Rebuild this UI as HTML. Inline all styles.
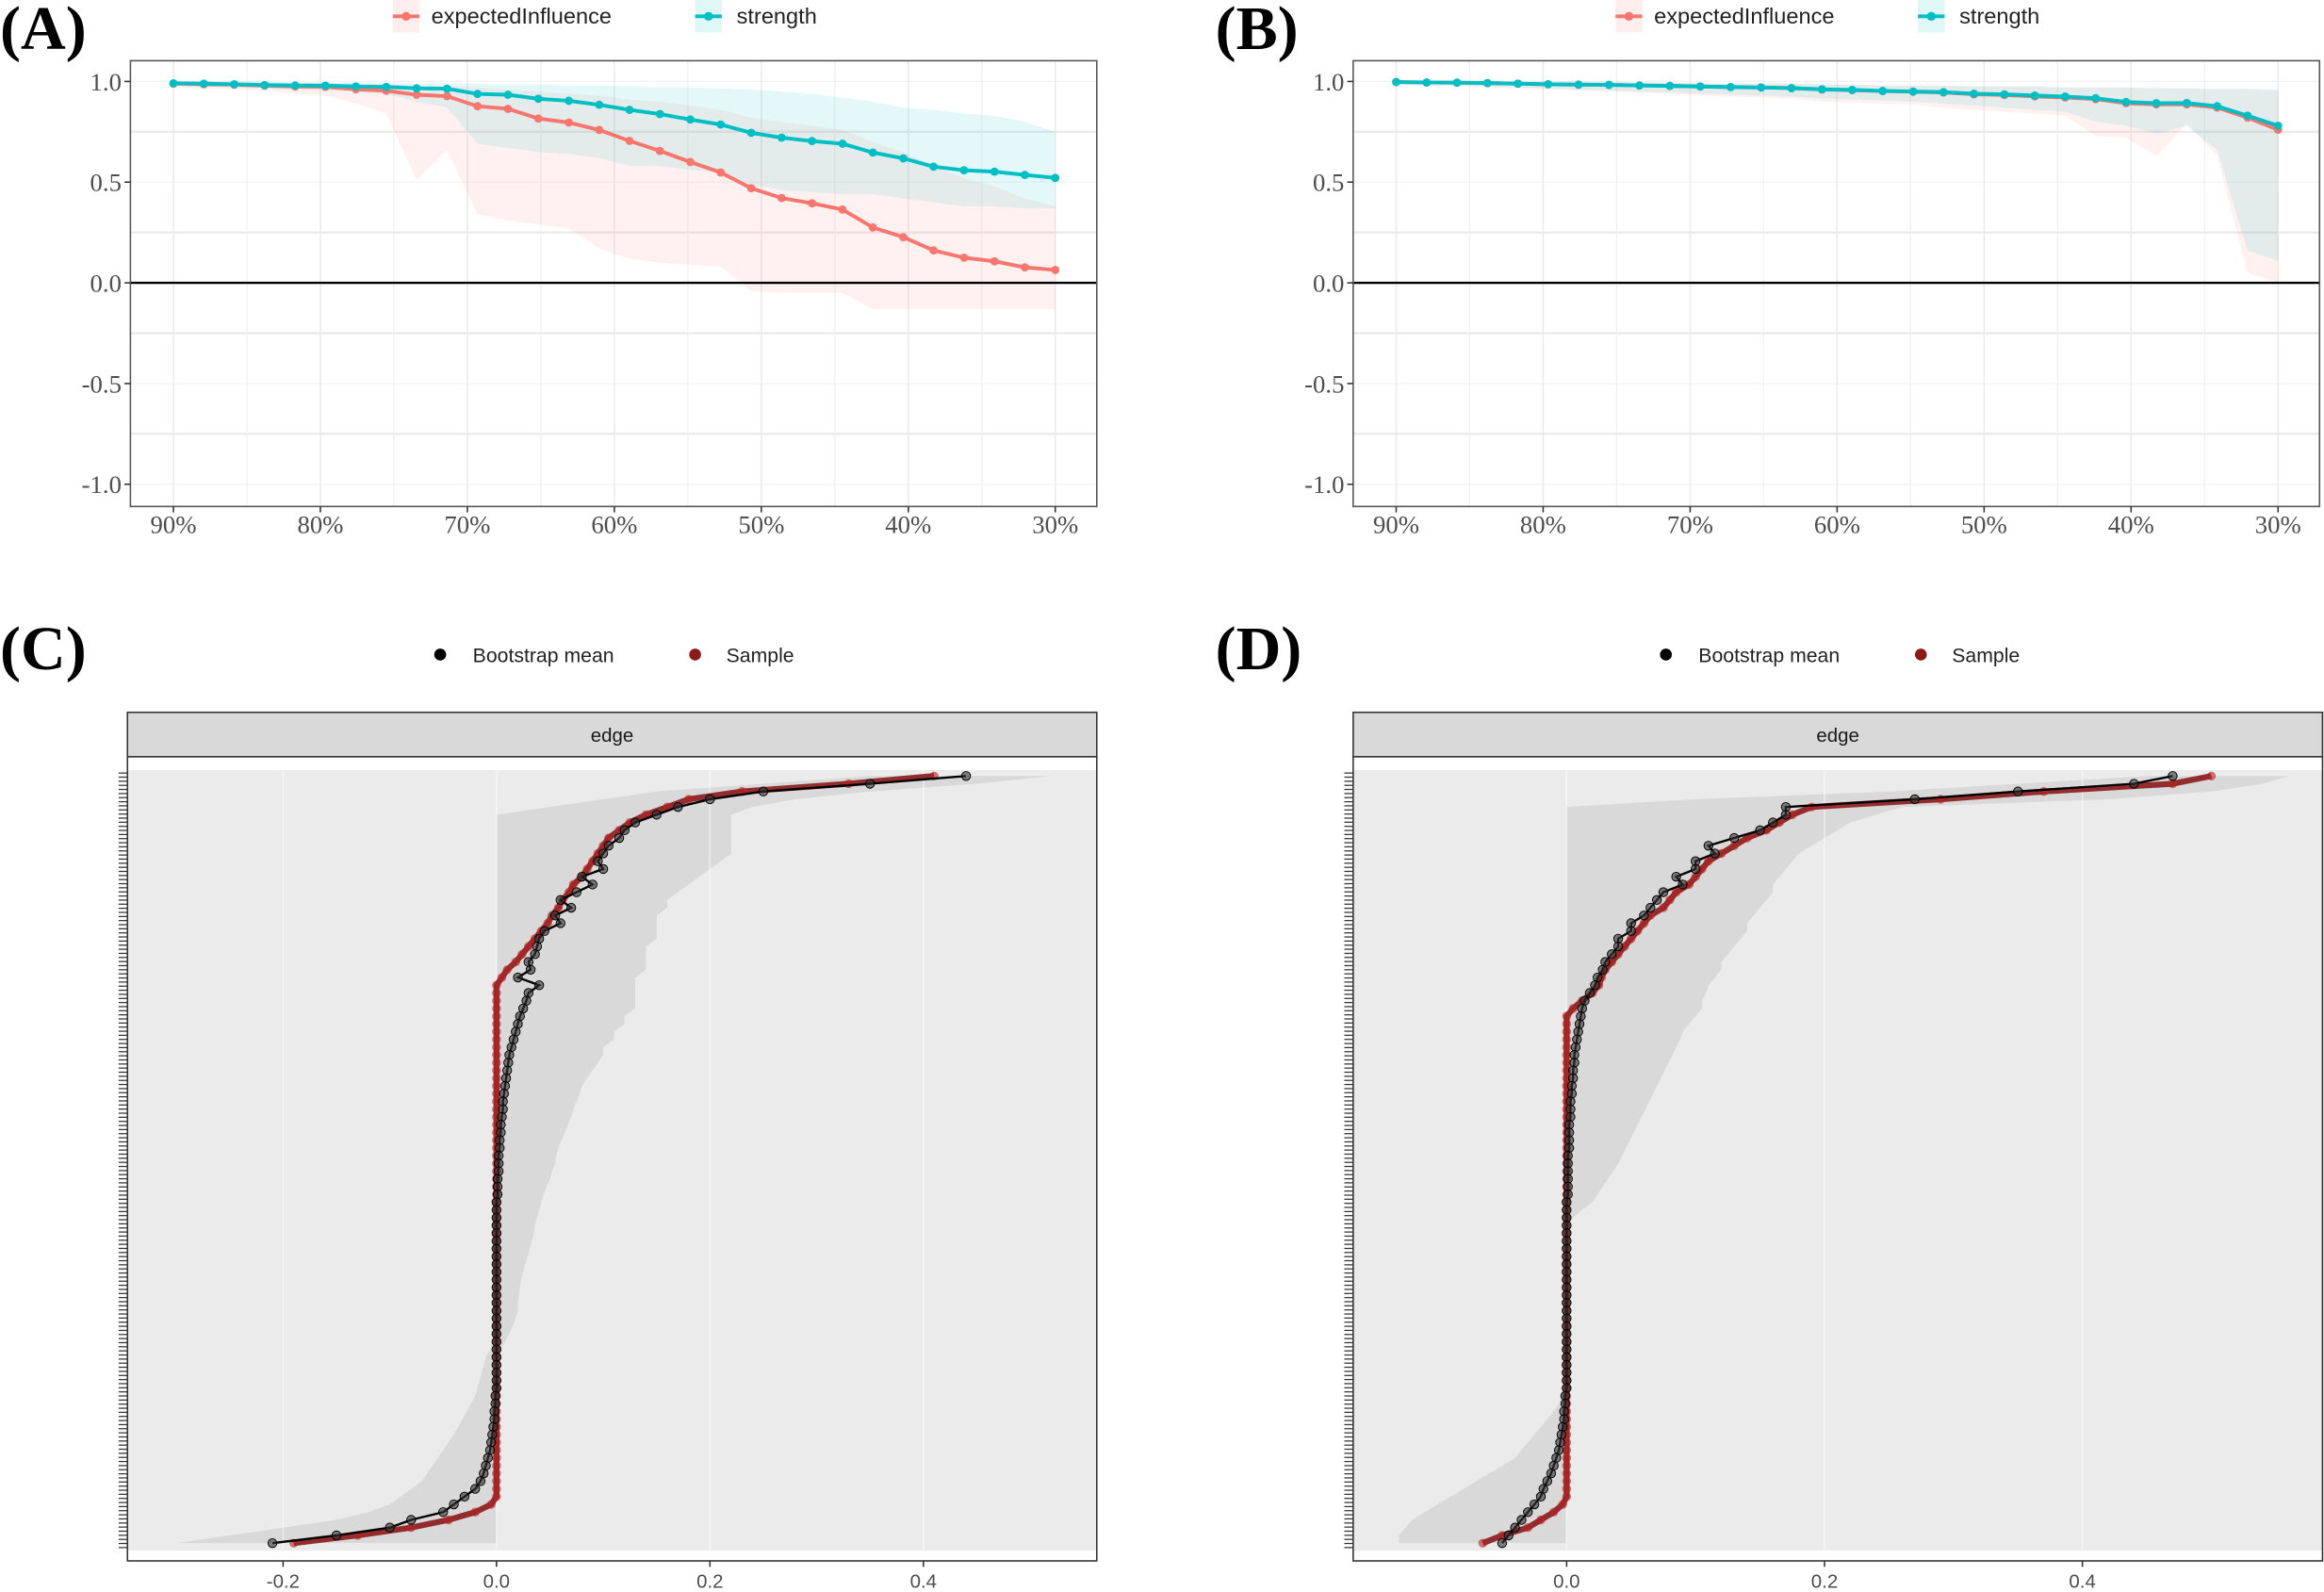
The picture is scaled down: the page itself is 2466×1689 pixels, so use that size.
<!DOCTYPE html>
<html><head><meta charset="utf-8">
<style>
html,body{margin:0;padding:0;background:#fff;}
svg{display:block;}
text{font-family:"Liberation Sans",sans-serif;}
.serif{font-family:"Liberation Serif",serif;}
</style></head>
<body>
<svg id="fig" width="2466" height="1689" viewBox="0 0 1568 1075" preserveAspectRatio="none" xmlns="http://www.w3.org/2000/svg">
<text class="serif" x="0" y="33" font-size="42" font-weight="bold">(A)</text>
<text class="serif" x="820" y="33" font-size="42" font-weight="bold">(B)</text>
<text class="serif" x="0" y="452" font-size="42" font-weight="bold">(C)</text>
<text class="serif" x="820" y="452" font-size="42" font-weight="bold">(D)</text>
<g id="gA"></g>
<g id="gB"></g>
<g id="gC"></g>
<g id="gD"></g>
</svg>
<script>
const dropPct=[90,87.93,85.86,83.79,81.72,79.66,77.59,75.52,73.45,71.38,69.31,67.24,65.17,63.1,61.03,58.97,56.9,54.83,52.76,50.69,48.62,46.55,44.48,42.41,40.34,38.28,36.21,34.14,32.07,30];
const xTickLabels=["90%","80%","70%","60%","50%","40%","30%"];
const xTickVals=[90,80,70,60,50,40,30];
const yTickVals=[1,0.5,0,-0.5,-1];
const yTickLabels=["1.0","0.5","0.0","-0.5","-1.0"];

const aStrength=[0.991,0.989,0.986,0.982,0.980,0.979,0.975,0.973,0.966,0.964,0.938,0.934,0.914,0.904,0.884,0.859,0.838,0.811,0.786,0.745,0.721,0.704,0.691,0.647,0.618,0.577,0.559,0.552,0.536,0.521];
const aStrengthLo=[0.98,0.975,0.97,0.965,0.96,0.955,0.95,0.94,0.9,0.87,0.69,0.67,0.65,0.64,0.62,0.58,0.58,0.56,0.55,0.49,0.46,0.45,0.44,0.44,0.42,0.4,0.38,0.38,0.37,0.37];
const aStrengthHi=[1,1,1,1,0.995,0.995,0.995,0.99,0.99,0.99,0.99,0.985,0.985,0.98,0.98,0.975,0.97,0.97,0.965,0.96,0.95,0.94,0.92,0.9,0.87,0.86,0.84,0.83,0.8,0.75];
const aEI=[0.989,0.986,0.984,0.979,0.975,0.973,0.961,0.954,0.934,0.927,0.877,0.864,0.816,0.796,0.759,0.705,0.655,0.600,0.548,0.470,0.421,0.395,0.364,0.275,0.227,0.161,0.125,0.107,0.077,0.064];
const aEILo=[0.97,0.965,0.96,0.955,0.94,0.93,0.89,0.84,0.51,0.66,0.34,0.31,0.29,0.27,0.17,0.12,0.1,0.09,0.08,-0.04,-0.05,-0.05,-0.05,-0.13,-0.13,-0.13,-0.13,-0.13,-0.13,-0.13];
const aEIHi=[1,1,1,0.995,0.995,0.99,0.99,0.985,0.98,0.975,0.97,0.96,0.95,0.94,0.93,0.91,0.9,0.88,0.86,0.82,0.8,0.78,0.76,0.7,0.65,0.58,0.52,0.48,0.42,0.38];

const bStrength=[0.997,0.995,0.994,0.992,0.989,0.986,0.984,0.983,0.980,0.978,0.975,0.972,0.970,0.967,0.961,0.958,0.953,0.950,0.947,0.939,0.936,0.930,0.925,0.917,0.898,0.892,0.893,0.877,0.830,0.780];
const bStrengthLo=[0.99,0.985,0.98,0.975,0.97,0.965,0.96,0.955,0.95,0.945,0.94,0.935,0.93,0.925,0.915,0.91,0.905,0.9,0.89,0.88,0.87,0.86,0.85,0.8,0.78,0.74,0.78,0.66,0.16,0.11];
const bStrengthHi=[1,1,1,1,1,1,1,1,0.995,0.995,0.99,0.99,0.99,0.99,0.985,0.985,0.98,0.98,0.98,0.975,0.975,0.975,0.97,0.97,0.97,0.97,0.965,0.965,0.965,0.962];
const bEI=[0.997,0.995,0.994,0.992,0.989,0.986,0.984,0.983,0.980,0.978,0.975,0.972,0.970,0.967,0.960,0.957,0.952,0.949,0.945,0.936,0.933,0.926,0.920,0.912,0.892,0.886,0.886,0.870,0.820,0.760];
const bEILo=[0.985,0.98,0.975,0.97,0.965,0.96,0.955,0.95,0.945,0.94,0.93,0.925,0.92,0.915,0.9,0.895,0.89,0.885,0.87,0.86,0.85,0.84,0.83,0.73,0.72,0.63,0.79,0.63,0.05,0.0];
const bEIHi=[1,1,1,1,1,1,1,1,0.995,0.995,0.99,0.99,0.99,0.99,0.985,0.985,0.98,0.98,0.98,0.975,0.975,0.975,0.97,0.97,0.97,0.965,0.965,0.96,0.96,0.955];

const cSample=[0.41,0.33,0.23,0.18,0.16,0.14,0.125,0.115,0.105,0.1,0.095,0.09,0.085,0.08,0.072,0.068,0.062,0.058,0.052,0.048,0.042,0.036,0.03,0.024,0.018,0.01,0.005,0,0,0,0,0,0,0,0,0,0,0,0,0,0,0,0,0,0,0,0,0,0,0,0,0,0,0,0,0,0,0,0,0,0,0,0,0,0,0,0,0,0,0,0,0,0,0,0,0,0,0,0,0,0,0,0,0,0,0,0,0,0,0,0,0,0,0,-0.005,-0.02,-0.045,-0.08,-0.13,-0.19];
const cMean=[0.44,0.35,0.25,0.2,0.17,0.15,0.13,0.12,0.115,0.105,0.1,0.095,0.1,0.08,0.09,0.075,0.06,0.07,0.055,0.06,0.045,0.04,0.038,0.036,0.03,0.032,0.02,0.04,0.03,0.028,0.025,0.022,0.02,0.018,0.016,0.014,0.012,0.011,0.01,0.009,0.008,0.007,0.006,0.006,0.005,0.004,0.004,0.003,0.003,0.002,0.002,0.002,0.001,0.001,0.001,0,0,0,0,0,0,0,0,0,0,0,0,0,0,0,0,0,0,0,0,0,0,0,0,0,-0.001,-0.001,-0.002,-0.002,-0.003,-0.004,-0.005,-0.006,-0.008,-0.01,-0.012,-0.015,-0.02,-0.03,-0.04,-0.05,-0.08,-0.1,-0.15,-0.21];
const cUpper=[0.52,0.45,0.35,0.28,0.24,0.22,0.22,0.22,0.22,0.22,0.22,0.21,0.2,0.19,0.18,0.17,0.16,0.16,0.15,0.15,0.15,0.15,0.14,0.14,0.14,0.14,0.13,0.13,0.13,0.13,0.13,0.12,0.12,0.11,0.11,0.1,0.1,0.095,0.09,0.085,0.08,0.078,0.075,0.072,0.07,0.067,0.064,0.061,0.058,0.056,0.055,0.052,0.05,0.047,0.044,0.042,0.04,0.038,0.036,0.035,0.033,0.031,0.029,0.027,0.025,0.023,0.022,0.021,0.02,0.02,0.018,0.015,0.012,0.008,0.004,0,0,0,0,0,0,0,0,0,0,0,0,0,0,0,0,0,0,0,0,0,0,0,0,0];
const cLower=[0.35,0.25,0.15,0.1,0.05,0,0,0,0,0,0,0,0,0,0,0,0,0,0,0,0,0,0,0,0,0,0,0,0,0,0,0,0,0,0,0,0,0,0,0,0,0,0,0,0,0,0,0,0,0,0,0,0,0,0,0,0,0,0,0,0,0,0,0,0,0,0,0,0,0,0,0,-0.002,-0.004,-0.006,-0.01,-0.012,-0.014,-0.016,-0.018,-0.02,-0.024,-0.028,-0.032,-0.036,-0.04,-0.045,-0.05,-0.055,-0.06,-0.065,-0.07,-0.08,-0.09,-0.1,-0.12,-0.15,-0.2,-0.25,-0.3];

const dSample=[0.5,0.47,0.37,0.29,0.19,0.175,0.165,0.155,0.14,0.13,0.12,0.11,0.105,0.1,0.095,0.085,0.08,0.075,0.065,0.06,0.055,0.05,0.045,0.04,0.035,0.03,0.027,0.025,0.02,0.012,0.005,0,0,0,0,0,0,0,0,0,0,0,0,0,0,0,0,0,0,0,0,0,0,0,0,0,0,0,0,0,0,0,0,0,0,0,0,0,0,0,0,0,0,0,0,0,0,0,0,0,0,0,0,0,0,0,0,0,0,0,0,0,0,0,-0.003,-0.01,-0.02,-0.03,-0.05,-0.065];
const dMean=[0.47,0.44,0.35,0.27,0.17,0.17,0.16,0.15,0.13,0.11,0.115,0.1,0.1,0.085,0.09,0.075,0.07,0.065,0.06,0.05,0.05,0.04,0.04,0.035,0.03,0.028,0.024,0.022,0.018,0.014,0.012,0.011,0.01,0.009,0.008,0.007,0.006,0.006,0.005,0.005,0.004,0.004,0.003,0.003,0.003,0.002,0.002,0.002,0.002,0.001,0.001,0.001,0.001,0.001,0.001,0,0,0,0,0,0,0,0,0,0,0,0,0,0,0,0,0,0,0,0,0,0,0,0,0,-0.001,-0.001,-0.002,-0.002,-0.003,-0.004,-0.005,-0.006,-0.008,-0.01,-0.012,-0.015,-0.018,-0.02,-0.025,-0.03,-0.035,-0.04,-0.045,-0.05];
const dUpper=[0.56,0.54,0.5,0.42,0.26,0.24,0.22,0.21,0.2,0.19,0.18,0.175,0.17,0.165,0.16,0.16,0.155,0.15,0.145,0.14,0.14,0.135,0.13,0.125,0.12,0.12,0.115,0.11,0.108,0.105,0.105,0.1,0.095,0.09,0.088,0.085,0.082,0.079,0.076,0.073,0.07,0.067,0.064,0.061,0.058,0.055,0.052,0.049,0.046,0.043,0.04,0.036,0.032,0.028,0.024,0.02,0.012,0.005,0,0,0,0,0,0,0,0,0,0,0,0,0,0,0,0,0,0,0,0,0,0,0,0,0,0,0,0,0,0,0,0,0,0,0,0,0,0,0,0,0,0];
const dLower=[0.45,0.35,0.25,0.1,0,0,0,0,0,0,0,0,0,0,0,0,0,0,0,0,0,0,0,0,0,0,0,0,0,0,0,0,0,0,0,0,0,0,0,0,0,0,0,0,0,0,0,0,0,0,0,0,0,0,0,0,0,0,0,0,0,0,0,0,0,0,0,0,0,0,0,0,0,0,0,0,0,0,0,-0.002,-0.004,-0.006,-0.01,-0.015,-0.02,-0.025,-0.03,-0.035,-0.04,-0.05,-0.06,-0.07,-0.08,-0.09,-0.1,-0.11,-0.12,-0.125,-0.13,-0.13];
const cTicks=[-0.2,0,0.2,0.4];
const cTickLabels=["-0.2","0.0","0.2","0.4"];
const dTicks=[0,0.2,0.4];
const dTickLabels=["0.0","0.2","0.4"];

const NS="http://www.w3.org/2000/svg";
function mk(parent,tag,attrs,txt){const e=document.createElementNS(NS,tag);for(const k in attrs)e.setAttribute(k,attrs[k]);if(txt!==undefined)e.textContent=txt;parent.appendChild(e);return e;}

const TEAL="#00BFC4",RED="#F8766D";
function stabPanel(g,ox,s,sLo,sHi,e,eLo,eHi){
  const xS=p=>ox+117+(90-p)/60*(712-117);
  const yS=v=>191-136*v;
  const L=ox+88,R=ox+740,T=41,B=342;
  let r=mk(g,'rect',{x:L,y:T,width:R-L,height:B-T,fill:'#fff'});
  
  
  [0.75,0.25,-0.25,-0.75].forEach(v=>mk(g,'line',{x1:L,x2:R,y1:yS(v),y2:yS(v),stroke:'#ebebeb','stroke-width':1.5}));
  [1,0.5,0,-0.5,-1].forEach(v=>mk(g,'line',{x1:L,x2:R,y1:yS(v),y2:yS(v),stroke:'#f3f3f3','stroke-width':0.8}));
  [85,75,65,55,45,35].forEach(p=>mk(g,'line',{x1:xS(p),x2:xS(p),y1:T,y2:B,stroke:'#f0f0f0','stroke-width':0.8}));
  xTickVals.forEach(p=>mk(g,'line',{x1:xS(p),x2:xS(p),y1:T,y2:B,stroke:'#ebebeb','stroke-width':1}));
  function band(lo,hi,col,name){
    let d='';dropPct.forEach((p,i)=>{d+=(i?'L':'M')+xS(p)+','+yS(hi[i]);});
    for(let i=dropPct.length-1;i>=0;i--)d+='L'+xS(dropPct[i])+','+yS(lo[i]);
    const el=mk(g,'path',{d:d+'Z',fill:col,'fill-opacity':0.1});
    
    
  }
  band(eLo,eHi,RED,'ei-ci-band');
  band(sLo,sHi,TEAL,'strength-ci-band');
  mk(g,'line',{x1:L,x2:R,y1:yS(0),y2:yS(0),stroke:'#000','stroke-width':1.5});
  function line(v,col,name){
    const pts=dropPct.map((p,i)=>xS(p)+','+yS(v[i])).join(' ');
    const pl=mk(g,'polyline',{points:pts,fill:'none',stroke:col,'stroke-width':2.5});
    
    
    dropPct.forEach((p,i)=>{
      const c=mk(g,'circle',{cx:xS(p),cy:yS(v[i]),r:2.8,fill:col});
      
      
    });
  }
  line(e,RED,'expected-influence');
  line(s,TEAL,'strength');
  mk(g,'rect',{x:L,y:T,width:R-L,height:B-T,fill:'none',stroke:'#555','stroke-width':1});
  yTickVals.forEach((v,i)=>{
    mk(g,'line',{x1:L-4,x2:L,y1:yS(v),y2:yS(v),stroke:'#333'});
    const t=mk(g,'text',{x:L-6,y:yS(v)+6,'text-anchor':'end','font-size':17,fill:'#4d4d4d','class':'serif'},yTickLabels[i]);
    
    
  });
  xTickVals.forEach((p,i)=>{
    mk(g,'line',{x1:xS(p),x2:xS(p),y1:B,y2:B+4,stroke:'#333'});
    const t=mk(g,'text',{x:xS(p),y:B+18,'text-anchor':'middle','font-size':17,fill:'#4d4d4d','class':'serif'},xTickLabels[i]);
    
    
  });
  const lg=mk(g,'g',{});
  
  
  mk(lg,'rect',{x:ox+265,y:0,width:18,height:22,fill:RED,'fill-opacity':0.12});
  mk(lg,'line',{x1:ox+265,x2:ox+283,y1:11,y2:11,stroke:RED,'stroke-width':2.5});
  mk(lg,'circle',{cx:ox+274,cy:11,r:3,fill:RED});
  const t1=mk(lg,'text',{x:ox+291,y:16,'font-size':15,fill:'#222'},'expectedInfluence');
  
  
  mk(lg,'rect',{x:ox+469,y:0,width:18,height:22,fill:TEAL,'fill-opacity':0.12});
  mk(lg,'line',{x1:ox+469,x2:ox+487,y1:11,y2:11,stroke:TEAL,'stroke-width':2.5});
  mk(lg,'circle',{cx:ox+478,cy:11,r:3,fill:TEAL});
  const t2=mk(lg,'text',{x:ox+497,y:16,'font-size':15,fill:'#222'},'strength');
  
  
}
stabPanel(document.getElementById('gA'),0,aStrength,aStrengthLo,aStrengthHi,aEI,aEILo,aEIHi);
stabPanel(document.getElementById('gB'),825,bStrength,bStrengthLo,bStrengthHi,bEI,bEILo,bEIHi);

function edgePanel(g,ox,x0,pxPerUnit,sample,mean,up,lo,ticks,tickLabels){
  const xS=v=>x0+v*pxPerUnit;
  const N=sample.length;
  const yS=i=>524+(1042-524)*i/(N-1);
  const L=ox+86,R=ox+740,T=511,B=1054;
  const lg=mk(g,'g',{});
  
  
  mk(lg,'circle',{cx:ox+297,cy:442,r:4,fill:'#000'});
  const t1=mk(lg,'text',{x:ox+319,y:447,'font-size':13.5,fill:'#222'},'Bootstrap mean');
  
  
  mk(lg,'circle',{cx:ox+469,cy:442,r:4,fill:'#8B1A1A'});
  const t2=mk(lg,'text',{x:ox+490,y:447,'font-size':13.5,fill:'#222'},'Sample');
  
  
  const st=mk(g,'rect',{x:L,y:481,width:R-L,height:30,fill:'#d9d9d9',stroke:'#333','stroke-width':1});
  
  
  const stt=mk(g,'text',{x:(L+R)/2,y:501,'text-anchor':'middle','font-size':13,fill:'#1a1a1a'},'edge');
  
  
  mk(g,'rect',{x:L,y:T,width:R-L,height:B-T,fill:'#fff'});
  const bg=mk(g,'rect',{x:L,y:520,width:R-L,height:527,fill:'#ebebeb'});
  
  
  let d='';
  for(let i=0;i<N;i++)d+=(i?'L':'M')+xS(up[i])+','+yS(i);
  for(let i=N-1;i>=0;i--)d+='L'+xS(lo[i])+','+yS(i);
  const bd=mk(g,'path',{d:d+'Z',fill:'#d9d9d9'});
  
  
  ticks.forEach(v=>mk(g,'line',{x1:xS(v),x2:xS(v),y1:T,y2:B,stroke:'#fff','stroke-opacity':0.5,'stroke-width':1}));
  const sl=mk(g,'polyline',{points:sample.map((v,i)=>xS(v)+','+yS(i)).join(' '),fill:'none',stroke:'#8B1A1A','stroke-width':4,'stroke-opacity':0.9});
  
  
  sample.forEach((v,i)=>{const c=mk(g,'circle',{cx:xS(v),cy:yS(i),r:3,fill:'#B22222','fill-opacity':0.6});
    
    });
  const ml=mk(g,'polyline',{points:mean.map((v,i)=>xS(v)+','+yS(i)).join(' '),fill:'none',stroke:'#000','stroke-width':1.5});
  
  
  mean.forEach((v,i)=>{const c=mk(g,'circle',{cx:xS(v),cy:yS(i),r:3,fill:'#333','fill-opacity':0.6,stroke:'#000','stroke-width':0.6});
    
    });
  mk(g,'rect',{x:L,y:T,width:R-L,height:B-T,fill:'none',stroke:'#333','stroke-width':1});
  const yt=mk(g,'g',{});
  
  
  for(let k=0;k<190;k++){const yy=522+(1045-522)*k/189;mk(yt,'line',{x1:L-6,x2:L,y1:yy,y2:yy,stroke:'#333','stroke-width':0.8});}
  ticks.forEach((v,i)=>{
    mk(g,'line',{x1:xS(v),x2:xS(v),y1:B,y2:B+4,stroke:'#333'});
    const t=mk(g,'text',{x:xS(v),y:B+18,'text-anchor':'middle','font-size':13,fill:'#4d4d4d'},tickLabels[i]);
    
    
  });
}
edgePanel(document.getElementById('gC'),0,335,720,cSample,cMean,cUpper,cLower,cTicks,cTickLabels);
edgePanel(document.getElementById('gD'),827,1057,870,dSample,dMean,dUpper,dLower,dTicks,dTickLabels);
</script>
</body></html>
